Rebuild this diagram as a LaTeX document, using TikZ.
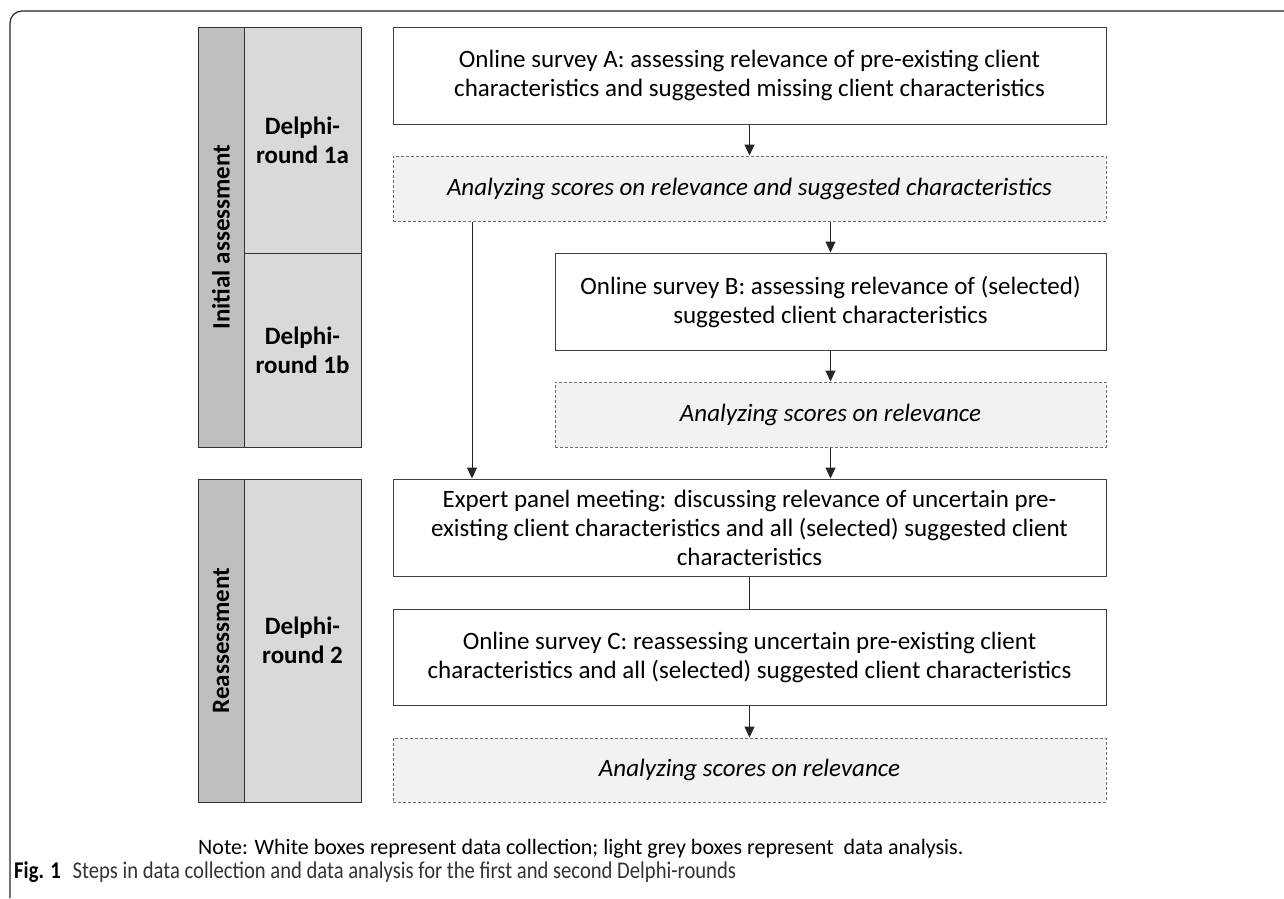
\documentclass[tikz,border=0pt]{standalone}
\usepackage{fontspec}
\setmainfont{Carlito}
\newfontfamily\captionfont[FakeStretch=0.86]{Carlito}
\usetikzlibrary{arrows.meta}
\definecolor{phasegrey}{HTML}{BFBFBF}
\definecolor{roundgrey}{HTML}{D9D9D9}
\definecolor{analysisgrey}{HTML}{F2F2F2}
\definecolor{edgegrey}{HTML}{404040}
\begin{document}
\begin{tikzpicture}[x=1pt,y=-1pt,
    collect/.style={draw=edgegrey,line width=1pt,fill=white,align=center,inner sep=0pt,
      minimum width=713pt,minimum height=97pt,font=\fontsize{25}{29}\selectfont},
    analyse/.style={collect,draw=edgegrey!75,dash pattern=on 3pt off 2pt,fill=analysisgrey,
      minimum height=65pt,font=\fontsize{25}{29}\selectfont\itshape},
    phase/.style={draw=black!80,line width=1pt,fill=phasegrey,inner sep=0pt,minimum width=46pt,
      font=\fontsize{25}{29}\selectfont\bfseries},
    round/.style={draw=black!80,line width=1pt,fill=roundgrey,inner sep=0pt,minimum width=117pt,
      align=center,font=\fontsize{25}{29}\selectfont\bfseries},
    arr/.style={draw=black!85,line width=1pt,-{Triangle[length=11pt,width=10pt]}}]
    \useasboundingbox (0,0) rectangle (1284,898);
    \draw [black!85,line width=1.2pt,rounded corners=12pt] (10,898) -- (10,11) -- (1284,11);
    \node [phase,minimum height=420pt] (initial) at (221,237) {};
    \node [rotate=90,font=\fontsize{25}{29}\selectfont\bfseries] (initialtext) at (initial) {Initial assessment};
    \node [round,minimum height=226pt] (round1a) at (302.5,140) {Delphi-\\round 1a};
    \node [round,minimum height=194pt] (round1b) at (302.5,350) {Delphi-\\round 1b};
    \node [phase,minimum height=323pt] (reassess) at (221,640.5) {};
    \node [rotate=90,font=\fontsize{25}{29}\selectfont\bfseries] (reassesstext) at (reassess) {Reassessment};
    \node [round,minimum height=323pt] (round2) at (302.5,640.5) {Delphi-\\round 2};
    \node [collect] (surveyA) at (749.5,75.5) {Online survey A: assessing relevance of pre-existing client\\characteristics and suggested missing client characteristics};
    \node [analyse] (analysisA) at (749.5,188.5) {Analyzing scores on relevance and suggested characteristics};
    \node [collect,minimum width=551pt] (surveyB) at (830.5,301.5) {Online survey B: assessing relevance of (selected)\\suggested client characteristics};
    \node [analyse,minimum width=551pt] (analysisB) at (830.5,414.5) {Analyzing scores on relevance};
    \node [collect] (panel) at (749.5,527.5) {Expert panel meeting: discussing relevance of uncertain pre-\\existing client characteristics and all (selected) suggested client\\characteristics};
    \node [collect,minimum height=96pt] (surveyC) at (749.5,657) {Online survey C: reassessing uncertain pre-existing client\\characteristics and all (selected) suggested client characteristics};
    \node [analyse,minimum height=64pt] (analysisC) at (749.5,770) {Analyzing scores on relevance};
    \coordinate (bypass) at (472,221);
    \node [anchor=west,inner sep=0pt,font=\fontsize{22}{26}\selectfont] (note) at (198,849) {Note: White boxes represent data collection; light grey boxes represent \ data analysis.};
    \node [anchor=west,inner sep=0pt,font=\captionfont\fontsize{24}{28}\selectfont] (caption) at (14,872) {\textbf{Fig. 1}\enspace {\color{black!80}Steps in data collection and data analysis for the first and second Delphi-rounds}};
    \draw [arr] (surveyA) -- (analysisA);
    \draw [arr] (analysisA.south -| surveyB) -- (surveyB);
    \draw [arr] (surveyB) -- (analysisB);
    \draw [arr] (analysisB) -- (analysisB.south |- panel.north);
    \draw [arr] (analysisA.south -| bypass) -- (bypass |- panel.north);
    \draw [draw=black!85,line width=1pt] (panel) -- (surveyC);
    \draw [arr] (surveyC) -- (analysisC);
\end{tikzpicture}
\end{document}
